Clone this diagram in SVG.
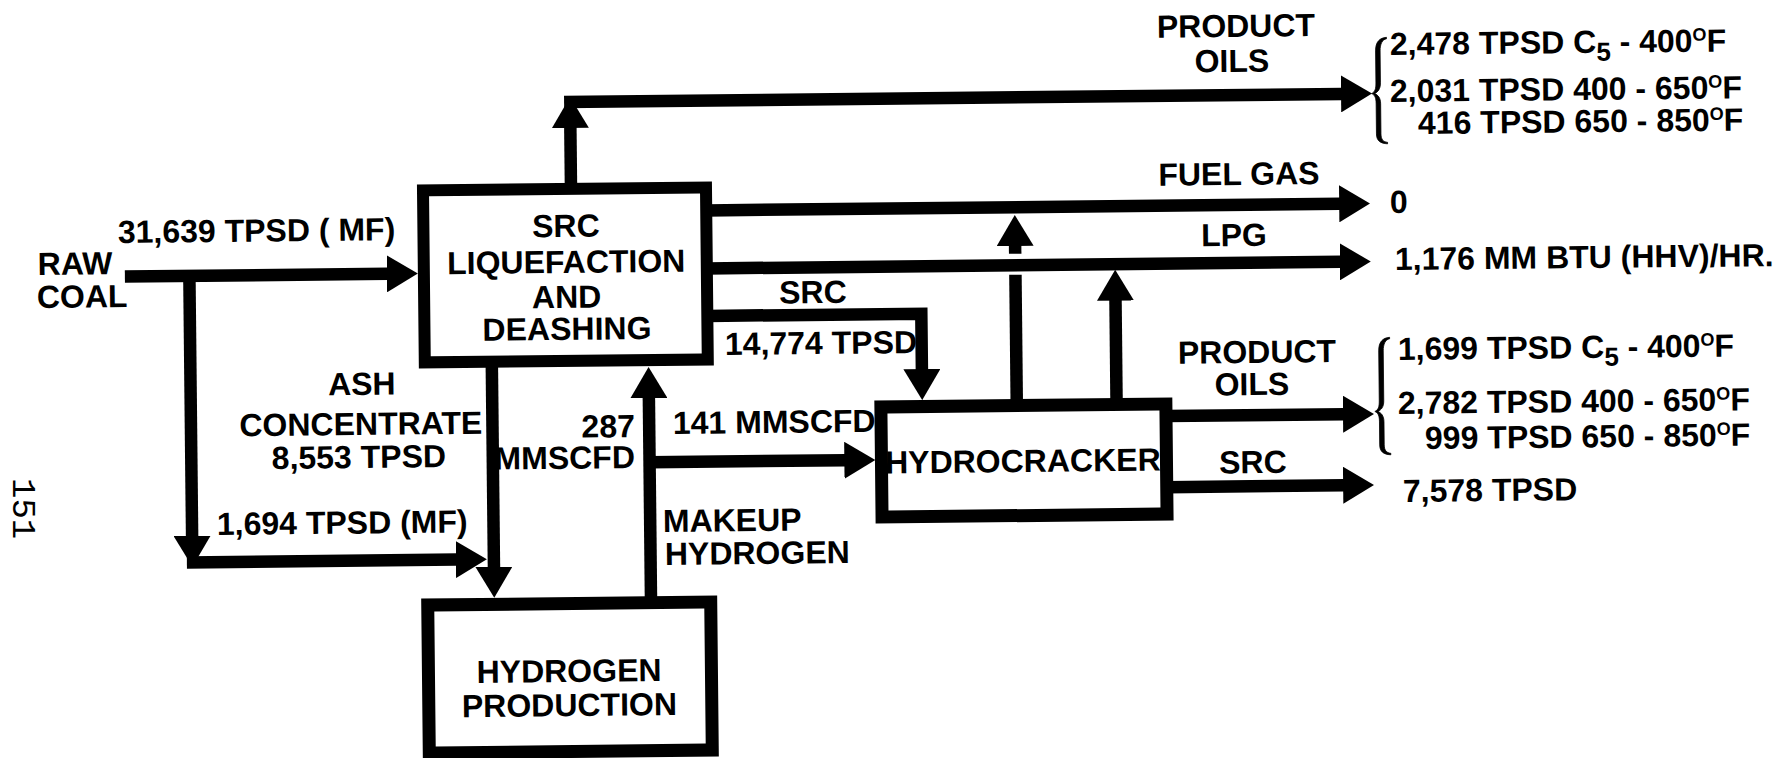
<svg xmlns="http://www.w3.org/2000/svg" width="1787" height="758" viewBox="0 0 1787 758">
<style>
.t{font-family:"Liberation Sans",Arial,Helvetica,sans-serif;font-weight:bold;font-size:32px;fill:#000}
.m{text-anchor:middle}
.e{text-anchor:end}
.sub{font-size:26px}
.sup{font-size:18px}
.box{fill:#fff;stroke:#000;stroke-width:12}
.ln{fill:none;stroke:#000;stroke-width:12.5;stroke-linejoin:miter;stroke-linecap:butt}
.arr{marker-end:url(#ah)}
.br{fill:#000;stroke:#000;stroke-width:0.8;stroke-linejoin:round}
.pg{font-family:"Liberation Mono","Courier New",monospace;font-size:34px;fill:#000}
</style>
<defs>
<marker id="ah" markerUnits="userSpaceOnUse" viewBox="0 0 31 37" markerWidth="31" markerHeight="37" refX="1" refY="18.5" orient="auto"><path d="M0,0 L31,18.5 L0,37 Z" fill="#000"/></marker>
</defs>
<rect width="1787" height="758" fill="#fff"/>
<g transform="rotate(-0.6 894 379)">
<g id="connectors">
<path class="ln arr" d="M126,268.5 H389"/>
<path class="ln arr" d="M190.5,263 V529.5"/>
<path class="ln arr" d="M185,555 H455"/>
<path class="ln arr" d="M492,360 V563.6"/>
<path class="ln arr" d="M648.7,596 V394.5"/>
<path class="ln arr" d="M648.7,459.7 H844.5"/>
<path class="ln arr" d="M708,314 H922 V370.4"/>
<path class="ln arr" d="M708,208.5 H1342"/>
<path class="ln arr" d="M708,266.5 H1342"/>
<path class="ln arr" d="M573,182 V123.6"/>
<path class="ln arr" d="M567,98.6 H1345"/>
<path class="ln" d="M1016.5,403 V276"/>
<path class="ln arr" d="M1016.5,255 V246.3"/>
<path class="ln arr" d="M1116.3,403 V302"/>
<path class="ln arr" d="M1166,418.9 H1343.6"/>
<path class="ln arr" d="M1166,490 H1343"/>
<path class="br" d="M1390,42.5 C1383,43 1379,47 1379,56 L1379,88 C1379,94 1378,97 1374.5,98.6 C1378,100 1379,103 1379,109 L1379,139 C1379,146 1383,148.5 1390,149 L1390,147.5 C1386,147 1383.5,145 1383.5,139 L1383.5,109 C1383.5,103 1381,100 1377.5,98.6 C1381,97 1383.5,94 1383.5,88 L1383.5,56 C1383.5,49 1386,44.5 1390,44 Z"/>
<path class="br" d="M1390,342.5 C1383,343 1379,347 1379,356 L1379,406 C1379,412 1378,415 1374.5,416.5 C1378,418 1379,421 1379,427 L1379,450 C1379,457 1383,459.5 1390,460 L1390,458.5 C1386,458 1383.5,456 1383.5,450 L1383.5,427 C1383.5,421 1381,418 1377.5,416.5 C1381,415 1383.5,412 1383.5,406 L1383.5,356 C1383.5,349 1386,344.5 1390,344 Z"/>
</g>
<g id="node-src">
<rect class="box" x="425" y="185.5" width="283" height="172"/>
<text class="t m" x="567.5" y="233.5">SRC</text>
<text class="t m" x="567.5" y="269.5">LIQUEFACTION</text>
<text class="t m" x="567.5" y="304.5">AND</text>
<text class="t m" x="567.5" y="336.5">DEASHING</text>
</g>
<g id="node-hydrocracker">
<rect class="box" x="880.6" y="406.9" width="285" height="110" style="stroke-width:13"/>
<text class="t m" x="1022" y="473.4">HYDROCRACKER</text>
</g>
<g id="node-hydrogen">
<rect class="box" x="425.4" y="600.1" width="283" height="148" style="stroke-width:13"/>
<text class="t m" x="566" y="678.6">HYDROGEN</text>
<text class="t m" x="566" y="712.6">PRODUCTION</text>
</g>
<g id="labels">
<text class="t" x="39" y="266">RAW</text>
<text class="t" x="37.7" y="299">COAL</text>
<text class="t" x="119.4" y="234.9">31,639 TPSD ( MF)</text>
<text class="t m" x="361.8" y="389.4">ASH</text>
<text class="t m" x="360.4" y="429.4">CONCENTRATE</text>
<text class="t m" x="358.1" y="462.4">8,553 TPSD</text>
<text class="t" x="215.4" y="527.9">1,694 TPSD (MF)</text>
<text class="t e" x="634.4" y="434.3">287</text>
<text class="t e" x="634.1" y="465.3">MMSCFD</text>
<text class="t" x="672.4" y="431.7">141 MMSCFD</text>
<text class="t" x="661.4" y="529.6">MAKEUP</text>
<text class="t" x="663" y="562.6">HYDROGEN</text>
<text class="t m" x="813.8" y="302.2">SRC</text>
<text class="t" x="725.3" y="353.2">14,774 TPSD</text>
<text class="t m" x="1239.6" y="40.6">PRODUCT</text>
<text class="t m" x="1235.2" y="75.5">OILS</text>
<text class="t m" x="1241" y="188.6">FUEL GAS</text>
<text class="t m" x="1235.4" y="249.6">LPG</text>
<text class="t m" x="1257.2" y="366.8">PRODUCT</text>
<text class="t m" x="1251.8" y="398.8">OILS</text>
<text class="t m" x="1252" y="476.8">SRC</text>
<text class="t" x="1393.4" y="60.2">2,478 TPSD C<tspan class="sub" dy="8">5</tspan><tspan dy="-8"> - 400</tspan><tspan class="sup" dy="-11">O</tspan><tspan dy="11">F</tspan></text>
<text class="t" x="1392.9" y="107.2">2,031 TPSD 400 - 650<tspan class="sup" dy="-11">O</tspan><tspan dy="11">F</tspan></text>
<text class="t" x="1420.6" y="139.5">416 TPSD 650 - 850<tspan class="sup" dy="-11">O</tspan><tspan dy="11">F</tspan></text>
<text class="t" x="1391.7" y="218.2">0</text>
<text class="t" x="1396.1" y="275.3">1,176 MM BTU (HHV)/HR.</text>
<text class="t" x="1398.2" y="365.3">1,699 TPSD C<tspan class="sub" dy="8">5</tspan><tspan dy="-8"> - 400</tspan><tspan class="sup" dy="-11">O</tspan><tspan dy="11">F</tspan></text>
<text class="t" x="1397.6" y="419.3">2,782 TPSD 400 - 650<tspan class="sup" dy="-11">O</tspan><tspan dy="11">F</tspan></text>
<text class="t" x="1424.3" y="454.6">999 TPSD 650 - 850<tspan class="sup" dy="-11">O</tspan><tspan dy="11">F</tspan></text>
<text class="t" x="1401.7" y="507.3">7,578 TPSD</text>
</g>
</g>
<text class="pg" transform="translate(13,478) rotate(90)">151</text>
</svg>
